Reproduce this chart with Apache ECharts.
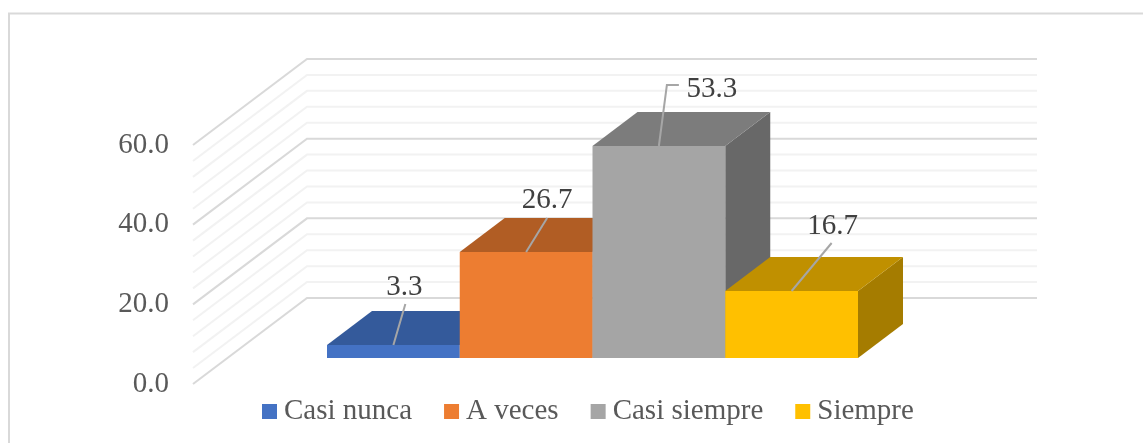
<!DOCTYPE html>
<html>
<head>
<meta charset="utf-8">
<style>html,body{margin:0;padding:0;background:#fff}#c{width:1143px;height:443px}</style>
<script src="https://cdn.jsdelivr.net/npm/echarts@6/dist/echarts.min.js"></script>
</head>
<body>
<div id="c"></div>
<script>
// ---- data ----
const categories = ['Casi nunca', 'A veces', 'Casi siempre', 'Siempre'];
const values = [3.3, 26.7, 53.3, 16.7];
const wallLevels = [0, 4, 8, 12, 16, 20, 24, 28, 32, 36, 40, 44, 48, 52, 56, 60];
const majorTick = 20;
const axisMax = 60;

// ---- style ----
const FONT = '"Liberation Serif"';
const frontColors = ['#4472C4', '#ED7D31', '#A5A5A5', '#FFC000'];
const topColors = ['#345A9B', '#B15D24', '#7C7C7C', '#C09000'];
const sideColors = ['#2A4A80', '#8E4A1C', '#686868', '#A57C00'];
const barDepth = [45, -34];
const wallDepth = [114, -86];
// leader end and label centre, relative to the middle of each bar's front top edge
const leaderPaths = [
  [[12, -41]],
  [[21, -34]],
  [[8, -61], [20, -61]],
  [[40, -48]]
];
const labelOffsets = [[11, -58], [21, -52], [53, -57], [41, -65]];

const chart = echarts.init(document.getElementById('c'), null, {renderer: 'canvas'});

function renderWall(params, api) {
  const v = api.value(1);
  const a = api.coord([0, v]);
  const b = api.coord([1, v]);
  const major = v % majorTick === 0;
  return {
    type: 'polyline',
    shape: {points: [a, [a[0] + wallDepth[0], a[1] + wallDepth[1]], [b[0], b[1] + wallDepth[1]]]},
    style: {fill: null, stroke: major ? '#D9D9D9' : '#F2F2F2', lineWidth: 2},
    silent: true
  };
}

function makeBarRenderer(idx) {
  return function (params, api) {
    const cat = api.value(0), v = api.value(1);
    const w = api.size([1, 0])[0];
    const t = api.coord([cat, v]);
    const b = api.coord([cat, 0]);
    const top = Math.round(t[1]);
    const x0 = t[0] - w / 2, x1 = t[0] + w / 2;
    const dx = barDepth[0], dy = barDepth[1];
    const pts = [[t[0], top]].concat(leaderPaths[idx].map(p => [t[0] + p[0], top + p[1]]));
    const lo = labelOffsets[idx];
    return {
      type: 'group',
      children: [
        {type: 'polygon', shape: {points: [[x1, top], [x1 + dx, top + dy], [x1 + dx, b[1] + dy], [x1, b[1]]]},
         style: {fill: sideColors[idx]}},
        {type: 'polygon', shape: {points: [[x0, top], [x0 + dx, top + dy], [x1 + dx, top + dy], [x1, top]]},
         style: {fill: topColors[idx]}},
        {type: 'rect', shape: {x: x0, y: top, width: w, height: b[1] - top},
         style: {fill: frontColors[idx]}},
        {type: 'polyline', shape: {points: pts}, z2: 10,
         style: {fill: null, stroke: '#A6A6A6', lineWidth: 2}},
        {type: 'text', z2: 11, x: t[0] + lo[0], y: top + lo[1],
         style: {text: v.toFixed(1), font: '29px ' + FONT, fill: '#404040', align: 'center', verticalAlign: 'middle'}}
      ]
    };
  };
}

const barSeries = categories.map((name, i) => ({
  type: 'custom',
  name: name,
  xAxisIndex: 0,
  yAxisIndex: 0,
  coordinateSystem: 'cartesian2d',
  clip: false,
  z: 3,
  itemStyle: {color: frontColors[i]},
  encode: {x: 0, y: 1},
  data: [[i, values[i]]],
  renderItem: makeBarRenderer(i)
}));

chart.setOption({
  animation: false,
  backgroundColor: '#ffffff',
  graphic: [
    {type: 'line', shape: {x1: 8, y1: 13.5, x2: 1143, y2: 13.5}, style: {stroke: '#D9D9D9', lineWidth: 2}, silent: true},
    {type: 'line', shape: {x1: 9, y1: 13, x2: 9, y2: 443}, style: {stroke: '#D9D9D9', lineWidth: 2}, silent: true}
  ],
  grid: [
    {left: 327, top: 119, width: 531, height: 239},
    {left: 193, top: 145, width: 844, height: 239}
  ],
  xAxis: [
    {gridIndex: 0, type: 'category', data: categories, show: false},
    {gridIndex: 1, type: 'value', min: 0, max: 1, show: false}
  ],
  yAxis: [
    {gridIndex: 0, type: 'value', min: 0, max: axisMax, show: false},
    {gridIndex: 1, type: 'value', min: 0, max: axisMax, interval: majorTick,
     axisLine: {show: false}, axisTick: {show: false}, splitLine: {show: false},
     axisLabel: {margin: 24, color: '#595959', fontFamily: FONT, fontSize: 29,
                 padding: [0, 0, 5, 0], formatter: v => v.toFixed(1)}}
  ],
  legend: {
    left: 257, top: 392, itemWidth: 15, itemHeight: 15, itemGap: 32, icon: 'rect',
    data: categories,
    textStyle: {color: '#595959', fontFamily: FONT, fontSize: 29, padding: [0, 0, 0, 2]}
  },
  series: [{
    type: 'custom',
    name: 'wall',
    xAxisIndex: 1,
    yAxisIndex: 1,
    clip: false,
    z: 1,
    silent: true,
    encode: {x: 0, y: 1},
    data: wallLevels.map(v => [0, v]),
    renderItem: renderWall
  }].concat(barSeries)
});
</script>
</body>
</html>
